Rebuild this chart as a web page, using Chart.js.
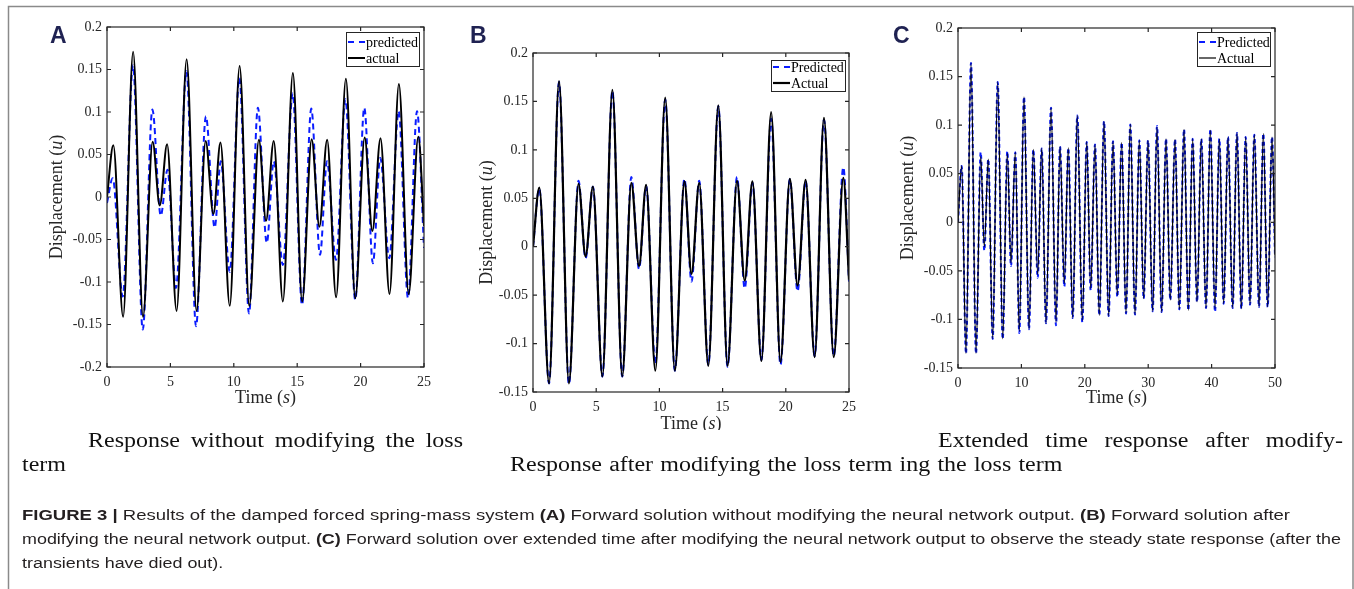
<!DOCTYPE html>
<html>
<head>
<meta charset="utf-8">
<script src="https://cdn.jsdelivr.net/npm/chart.js@4.4.0/dist/chart.umd.min.js"></script>
<style>
  html, body { margin: 0; padding: 0; background: #fff; }
  body { width: 1354px; height: 589px; position: relative; overflow: hidden; }
  canvas { position: absolute; }
</style>
</head>
<body>
<canvas id="bg" width="1354" height="589" style="left:0;top:0;width:1354px;height:589px"></canvas>
<canvas id="chartA" width="420" height="400" style="left:20px;top:10px;width:420px;height:400px"></canvas>
<canvas id="chartB" width="420" height="420" style="left:450px;top:10px;width:420px;height:420px"></canvas>
<canvas id="chartC" width="430" height="400" style="left:870px;top:10px;width:430px;height:400px"></canvas>
<script>
// time (s) and displacement (u), at the peaks and troughs
const actualT = [0, 0.5, 1.27, 2.06, 2.84, 3.6, 4.16, 4.74, 5.49, 6.28, 7.06, 7.78, 8.39, 8.95, 9.68, 10.46, 11.22, 11.98, 12.54, 13.15,
  13.87, 14.66, 15.39, 16.14, 16.75, 17.36, 18.07, 18.84, 19.58, 20.32, 20.93, 21.57, 22.28, 23.02, 23.79, 24.55, 25];
const actualU = [0, 0.061, -0.141, 0.171, -0.141, 0.065, -0.010, 0.062, -0.134, 0.162, -0.134, 0.066, -0.020, 0.064, -0.128, 0.154, -0.128, 0.0675, -0.028, 0.066,
  -0.123, 0.146, -0.123, 0.068, -0.035, 0.0675, -0.118, 0.139, -0.119, 0.070, -0.040, 0.069, -0.114, 0.133, -0.114, 0.071, -0.034];

// panel A: prediction without modified loss
const predAT = [0, 0.45, 1.24, 2.05, 2.82, 3.58, 4.24, 4.77, 5.44, 6.27, 7.02, 7.8, 8.49, 8.97, 9.68, 10.44, 11.2, 11.9, 12.6, 13.15,
  13.87, 14.64, 15.38, 16.11, 16.8, 17.35, 18.06, 18.8, 19.58, 20.29, 20.97, 21.55, 22.26, 23.0, 23.74, 24.45, 25];
const predAU = [-0.007, 0.022, -0.117, 0.155, -0.156, 0.103, -0.022, 0.032, -0.107, 0.148, -0.152, 0.095, -0.036, 0.042, -0.088, 0.140, -0.137, 0.105, -0.054, 0.042,
  -0.080, 0.122, -0.127, 0.104, -0.068, 0.042, -0.074, 0.115, -0.121, 0.105, -0.078, 0.046, -0.072, 0.101, -0.119, 0.101, -0.06];

// panel B: prediction after modifying the loss (same times as actualT)
const predBU = [0, 0.06, -0.141, 0.17, -0.142, 0.068, -0.012, 0.062, -0.134, 0.161, -0.134, 0.072, -0.023, 0.063, -0.121, 0.152, -0.128, 0.070, -0.036, 0.068,
  -0.122, 0.145, -0.124, 0.072, -0.043, 0.066, -0.117, 0.132, -0.122, 0.070, -0.046, 0.068, -0.113, 0.131, -0.113, 0.082, -0.036];

// panel C: 50 s run
const cT = [0, 0.58, 1.26, 2.05, 2.84, 3.58, 4.15, 4.78, 5.47, 6.26, 7.05, 7.78, 8.36, 9.04, 9.67, 10.41, 11.2, 11.88, 12.57, 13.2,
  13.88, 14.67, 15.46, 16.09, 16.77, 17.4, 18.09, 18.82, 19.61, 20.3, 20.93, 21.61, 22.29, 23.03, 23.76, 24.45, 25.13, 25.81, 26.5, 27.18,
  27.92, 28.6, 29.29, 29.97, 30.7, 31.39, 32.12, 32.81, 33.49, 34.23, 34.91, 35.65, 36.33, 37.01, 37.7, 38.38, 39.12, 39.8, 40.54, 41.22,
  41.9, 42.59, 43.32, 44.0, 44.69, 45.37, 46.06, 46.74, 47.48, 48.16, 48.84, 49.53, 50];
const actualCU = [0, 0.058, -0.135, 0.164, -0.135, 0.068, -0.025, 0.065, -0.12, 0.1445, -0.12, 0.071, -0.042, 0.072, -0.112, 0.129, -0.11, 0.075, -0.054, 0.076,
  -0.104, 0.118, -0.103, 0.078, -0.063, 0.0765, -0.0986, 0.11, -0.101, 0.0827, -0.068, 0.08, -0.0958, 0.104, -0.0965, 0.0834, -0.075, 0.082, -0.094, 0.1007,
  -0.095, 0.0844, -0.0786, 0.0844, -0.0917, 0.098, -0.0924, 0.086, -0.080, 0.0854, -0.0896, 0.0957, -0.0906, 0.086, -0.082, 0.086, -0.0883, 0.0947, -0.089, 0.086,
  -0.0838, 0.0878, -0.0883, 0.092, -0.089, 0.0878, -0.0848, 0.090, -0.0872, 0.0913, -0.0872, 0.0878, -0.034];
const predCU = [0, 0.058, -0.135, 0.164, -0.135, 0.072, -0.029, 0.065, -0.12, 0.1445, -0.12, 0.073, -0.045, 0.072, -0.114, 0.129, -0.11, 0.075, -0.057, 0.076,
  -0.104, 0.118, -0.106, 0.078, -0.066, 0.0765, -0.0986, 0.11, -0.103, 0.0827, -0.07, 0.08, -0.0958, 0.104, -0.0965, 0.0834, -0.077, 0.082, -0.094, 0.1007,
  -0.095, 0.0844, -0.0786, 0.0844, -0.0917, 0.099, -0.0924, 0.086, -0.080, 0.0854, -0.0896, 0.0957, -0.0906, 0.086, -0.082, 0.086, -0.0883, 0.096, -0.092, 0.086,
  -0.0838, 0.0878, -0.0883, 0.092, -0.089, 0.0878, -0.0848, 0.090, -0.0872, 0.0913, -0.0872, 0.0878, -0.036];

// tick labels
const xTicksAB = [0, 5, 10, 15, 20, 25];
const xTicksC = [0, 10, 20, 30, 40, 50];
const yTicksA = [-0.2, -0.15, -0.1, -0.05, 0, 0.05, 0.1, 0.15, 0.2];
const yTicksBC = [-0.15, -0.1, -0.05, 0, 0.05, 0.1, 0.15, 0.2];

const SERIF = '"Liberation Serif", "Times New Roman", serif';
const SANS = '"Liberation Sans", Arial, sans-serif';
const AXIS = '#262626';

function pts(t, u) { return t.map((v, i) => ({ x: v, y: u[i] })); }

function drawMixed(ctx, parts, cx, cy, rotate) {
  ctx.save();
  ctx.translate(cx, cy);
  if (rotate) ctx.rotate(-Math.PI / 2);
  ctx.textBaseline = 'middle';
  ctx.textAlign = 'left';
  let total = 0;
  parts.forEach(p => { ctx.font = p[1]; total += ctx.measureText(p[0]).width; });
  let x = -total / 2;
  parts.forEach(p => { ctx.font = p[1]; ctx.fillText(p[0], x, 0); x += ctx.measureText(p[0]).width; });
  ctx.restore();
}

// box, inward ticks, legend and axis titles, MATLAB style
const matlabBox = {
  id: 'matlabBox',
  afterDatasetsDraw(chart, args, o) {
    const { ctx, chartArea: a, scales: { x, y } } = chart;
    ctx.save();
    ctx.strokeStyle = AXIS;
    ctx.lineWidth = 1.2;
    ctx.strokeRect(a.left, a.top, a.right - a.left, a.bottom - a.top);
    ctx.beginPath();
    x.ticks.forEach(t => {
      const px = x.getPixelForValue(t.value);
      ctx.moveTo(px, a.bottom); ctx.lineTo(px, a.bottom - 4);
      ctx.moveTo(px, a.top); ctx.lineTo(px, a.top + 4);
    });
    y.ticks.forEach(t => {
      const py = y.getPixelForValue(t.value);
      ctx.moveTo(a.left, py); ctx.lineTo(a.left + 4, py);
      ctx.moveTo(a.right, py); ctx.lineTo(a.right - 4, py);
    });
    ctx.stroke();

    // legend
    const lg = o.legend;
    const bx = Math.round(a.right - lg.dx - lg.w), by = Math.round(a.top + lg.dy);
    ctx.fillStyle = '#fff';
    ctx.fillRect(bx, by, lg.w, lg.h);
    ctx.strokeStyle = AXIS;
    ctx.lineWidth = 1;
    ctx.strokeRect(bx + 0.5, by + 0.5, lg.w, lg.h);
    lg.rows.forEach(r => {
      const yy = by + r.dy;
      ctx.beginPath();
      ctx.setLineDash(r.dash);
      ctx.strokeStyle = r.color;
      ctx.lineWidth = r.width;
      ctx.moveTo(bx + 2, yy); ctx.lineTo(bx + 19, yy);
      ctx.stroke();
      ctx.setLineDash([]);
      ctx.fillStyle = '#000';
      ctx.font = '14px ' + SERIF;
      ctx.textBaseline = 'middle';
      ctx.textAlign = 'left';
      ctx.fillText(r.label, bx + 20, yy + 1);
    });

    // axis titles
    ctx.fillStyle = AXIS;
    const f = '18px ' + SERIF, fi = 'italic 18px ' + SERIF;
    drawMixed(ctx, [['Time (', f], ['s', fi], [')', f]], (a.left + a.right) / 2, a.bottom + o.xTitle, false);
    drawMixed(ctx, [['Displacement (', f], ['u', fi], [')', f]], a.left - o.yTitle, (a.top + a.bottom) / 2, true);
    ctx.restore();
  }
};

function makeChart(id, p) {
  const font = { family: SERIF, size: 14 };
  new Chart(document.getElementById(id), {
    type: 'line',
    data: {
      datasets: [
        { label: p.labels[1], data: p.actual, borderColor: '#000', borderWidth: p.actualWidth,
          pointRadius: 0, cubicInterpolationMode: 'monotone', fill: false },
        { label: p.labels[0], data: p.pred, borderColor: '#0a1cff', borderWidth: 2, borderDash: p.dash,
          pointRadius: 0, cubicInterpolationMode: 'monotone', fill: false }
      ]
    },
    options: {
      responsive: false,
      devicePixelRatio: 1,
      animation: false,
      events: [],
      layout: { padding: { top: p.pad[0], right: p.pad[1], bottom: 0, left: 0 } },
      plugins: {
        legend: { display: false },
        tooltip: { enabled: false },
        matlabBox: {
          xTitle: p.xTitle, yTitle: p.yTitle,
          legend: {
            dx: p.lg[0], dy: p.lg[1], w: p.lg[2], h: p.lg[3],
            rows: [
              { label: p.labels[0], color: '#0a1cff', width: 2, dash: [6, 5], dy: p.lg[4] },
              { label: p.labels[1], color: '#000', width: p.actualWidth, dash: [], dy: p.lg[5] }
            ]
          }
        }
      },
      scales: {
        x: {
          type: 'linear', min: p.xTicks[0], max: p.xTicks[p.xTicks.length - 1],
          grid: { display: false, drawTicks: false }, border: { display: false },
          afterBuildTicks: s => { s.ticks = p.xTicks.map(v => ({ value: v })); },
          afterFit: s => { s.height = p.xh; },
          ticks: { font, color: AXIS, padding: 7, maxRotation: 0, autoSkip: false, callback: v => String(v) }
        },
        y: {
          type: 'linear', min: p.yTicks[0], max: p.yTicks[p.yTicks.length - 1],
          grid: { display: false, drawTicks: false }, border: { display: false },
          afterBuildTicks: s => { s.ticks = p.yTicks.map(v => ({ value: v })); },
          afterFit: s => { s.width = p.yw; },
          ticks: { font, color: AXIS, padding: 5, autoSkip: false, callback: v => String(v) }
        }
      }
    },
    plugins: [matlabBox]
  });
}

makeChart('chartA', {
  actual: pts(actualT, actualU), pred: pts(predAT, predAU), labels: ['predicted', 'actual'],
  actualWidth: 2, dash: [6, 4], xTicks: xTicksAB, yTicks: yTicksA,
  pad: [17, 16], yw: 87, xh: 43, xTitle: 31, yTitle: 50, lg: [5, 5, 73, 34, 10, 26]
});
makeChart('chartB', {
  actual: pts(actualT, actualU), pred: pts(actualT, predBU), labels: ['Predicted', 'Actual'],
  actualWidth: 2.2, dash: [6, 4], xTicks: xTicksAB, yTicks: yTicksBC,
  pad: [43, 21], yw: 83, xh: 38, xTitle: 32, yTitle: 46, lg: [4, 7, 74, 31, 7, 23]
});
makeChart('chartC', {
  actual: pts(cT, actualCU), pred: pts(cT, predCU), labels: ['Predicted', 'Actual'],
  actualWidth: 1.2, dash: [4, 3], xTicks: xTicksC, yTicks: yTicksBC,
  pad: [18, 25], yw: 88, xh: 42, xTitle: 30, yTitle: 50, lg: [5, 4, 73, 34, 10, 26]
});

// frame, panel letters and captions
const bg = document.getElementById('bg').getContext('2d');
bg.strokeStyle = '#8a8a8a';
bg.lineWidth = 1.5;
bg.strokeRect(8.5, 6.5, 1344.5, 600);

bg.fillStyle = '#1f2252';
bg.font = 'bold 23px ' + SANS;
bg.fillText('A', 50, 43);
bg.fillText('B', 470, 43);
bg.fillText('C', 893, 43);

// sub-captions: widened serif, first lines justified
const KSUB = 1.17;
function subLine(text, x, y, width) {
  const words = text.split(' ');
  const ws = words.map(w => bg.measureText(w).width * KSUB);
  const sum = ws.reduce((s, v) => s + v, 0);
  const gap = width ? (width - sum) / (words.length - 1) : bg.measureText(' ').width * KSUB * 1.2;
  let cx = x;
  words.forEach((w, i) => {
    bg.save();
    bg.translate(cx, y);
    bg.scale(KSUB, 1);
    bg.fillText(w, 0, 0);
    bg.restore();
    cx += ws[i] + gap;
  });
}
bg.fillStyle = '#111';
bg.font = '20.5px ' + SERIF;
subLine('Response without modifying the loss', 88, 447, 375);
subLine('term', 22, 471);
subLine('Extended time response after modify-', 938, 447, 405);
subLine('Response after modifying the loss term ing the loss term', 510, 471);

const capLines = [
  [['FIGURE 3 | ', 1], ['Results of the damped forced spring-mass system ', 0], ['(A)', 1],
   [' Forward solution without modifying the neural network output. ', 0], ['(B)', 1], [' Forward solution after', 0]],
  [['modifying the neural network output. ', 0], ['(C)', 1],
   [' Forward solution over extended time after modifying the neural network output to observe the steady state response (after the', 0]],
  [['transients have died out).', 0]]
];
const capRight = [1290, 1341, null];
const capBase = [520, 544, 568];
let kCap = 1;
bg.fillStyle = '#231f20';
capLines.forEach((segs, i) => {
  let total = 0;
  segs.forEach(s => { bg.font = (s[1] ? 'bold ' : '') + '14px ' + SANS; total += bg.measureText(s[0]).width; });
  if (capRight[i]) kCap = (capRight[i] - 22) / total;
  bg.save();
  bg.translate(22, capBase[i]);
  bg.scale(kCap, 1);
  let x = 0;
  segs.forEach(s => {
    bg.font = (s[1] ? 'bold ' : '') + '14px ' + SANS;
    bg.fillText(s[0], x, 0);
    x += bg.measureText(s[0]).width;
  });
  bg.restore();
});
</script>
</body>
</html>
